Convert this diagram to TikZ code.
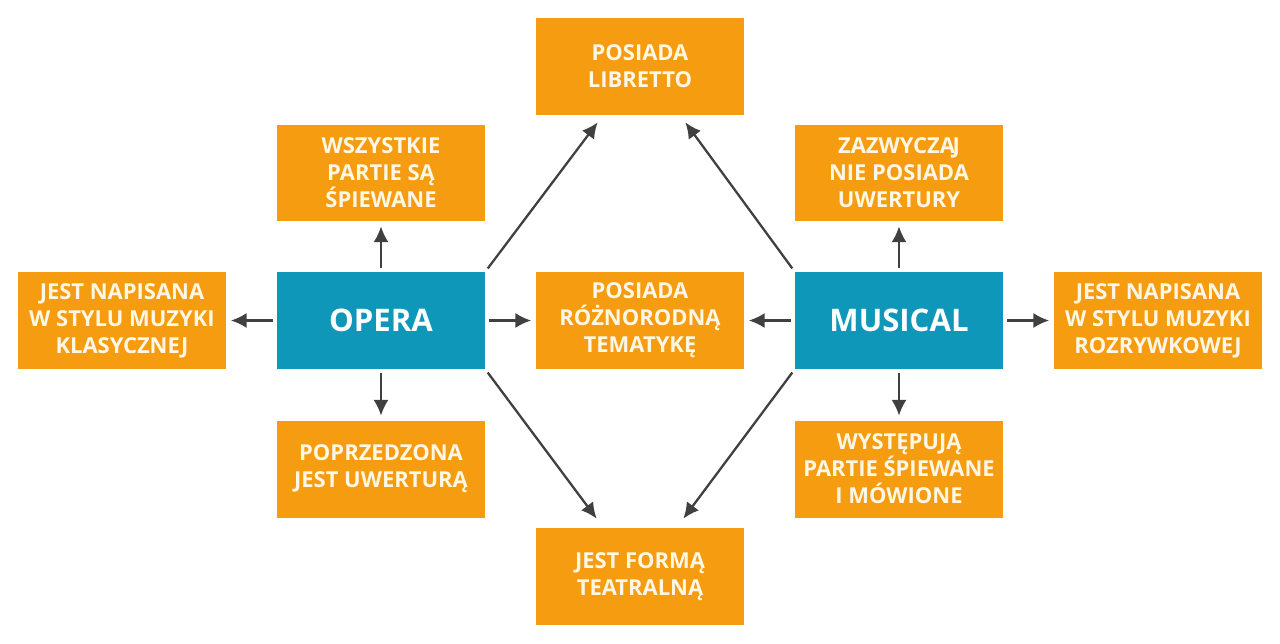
\documentclass[tikz,border=0pt]{standalone}
\usepackage{fontspec}
\setmainfont{Open Sans}
\usepackage{tikz}
\usetikzlibrary{arrows.meta,positioning,calc}
\definecolor{boxorange}{RGB}{246,156,16}
\definecolor{boxteal}{RGB}{14,151,184}
\definecolor{arrowgray}{RGB}{64,64,64}
\definecolor{cream}{RGB}{255,247,230}
\tikzset{
  feature/.style={rectangle,fill=boxorange,minimum width=4.16cm,minimum height=1.94cm,inner sep=0pt,
    align=center,text=cream,font=\fontsize{12.5}{15.4}\selectfont\bfseries},
  genre/.style={rectangle,fill=boxteal,minimum width=4.16cm,minimum height=1.94cm,inner sep=0pt,
    text=white,font=\fontsize{17.7}{20}\selectfont\bfseries},
  arr/.style={-{Latex[length=9pt,width=8.6pt]},line width=1.3pt,draw=arrowgray,
    shorten <=0.08cm},
  straightarr/.style={arr,shorten >=0.09cm}
}

\begin{document}
\begin{tikzpicture}[x=0.02cm,y=-0.02cm]
\useasboundingbox (0,0) rectangle (1280,643);

% genres
\node[genre] (opera) at (381,320.5) {OPERA};
\node[genre] (musical) at (899,320.5) {MUSICAL};

% features
\node[feature] (libretto) at (640,66.5) {POSIADA\\LIBRETTO};
\node[feature] (teatr) at (640,576.5) {JEST FORMĄ\\TEATRALNĄ};
\node[feature] (temat) at (640,320.5) {POSIADA\\RÓŻNORODNĄ\\TEMATYKĘ};
\node[feature] (spiew) at (381,173) {WSZYSTKIE\\PARTIE SĄ\\ŚPIEWANE};
\node[feature] (klas) at (122,320.5) {JEST NAPISANA\\W STYLU MUZYKI\\KLASYCZNEJ};
\node[feature] (uwert) at (381,469) {POPRZEDZONA\\JEST UWERTURĄ};
\node[feature] (bezuwert) at (899,173) {ZAZWYCZA\kern-1.3pt J\\NIE POSIADA\\UWERTURY};
\node[feature] (rozr) at (1158,320.5) {JEST NAPISANA\\W STYLU MUZYKI\\ROZRYWKOWEJ};
\node[feature] (mowa) at (899,469) {WYSTĘPUJĄ\\PARTIE ŚPIEWANE\\I MÓWIONE};

% diagonal targets
\coordinate (librL) at ($(libretto.south west)+(62,7)$);
\coordinate (librR) at ($(libretto.south east)+(-59,7)$);
\coordinate (teatrL) at ($(teatr.north west)+(61,-9)$);
\coordinate (teatrR) at ($(teatr.north east)+(-61,-9)$);

\draw[straightarr] (opera.north) -- (spiew.south);
\draw[straightarr] (opera.west) -- (klas.east);
\draw[straightarr] (opera.east) -- (temat.west);
\draw[straightarr] (opera.south) -- (uwert.north);

\draw[straightarr] (musical.north) -- (bezuwert.south);
\draw[straightarr] (musical.east) -- (rozr.west);
\draw[straightarr] (musical.west) -- (temat.east);
\draw[straightarr] (musical.south) -- (mowa.north);

\draw[arr] (opera.north east) -- (librL);
\draw[arr] (musical.north west) -- (librR);
\draw[arr] (opera.south east) -- (teatrL);
\draw[arr] (musical.south west) -- (teatrR);

\end{tikzpicture}
\end{document}
